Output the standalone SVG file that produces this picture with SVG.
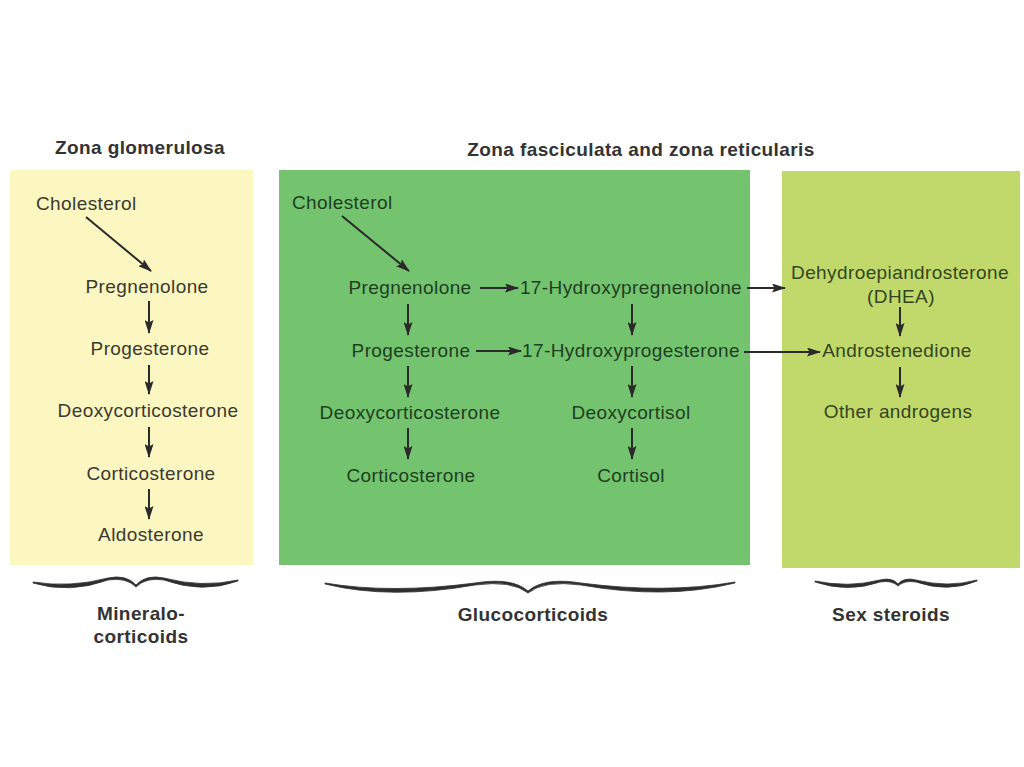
<svg xmlns="http://www.w3.org/2000/svg" width="1024" height="767" viewBox="0 0 1024 767">
<style>
.t{font-family:"Liberation Sans",Arial,sans-serif;font-size:19px;letter-spacing:0.4px;text-anchor:middle}
.b{font-family:"Liberation Sans",Arial,sans-serif;font-size:19px;font-weight:bold;letter-spacing:0.4px;text-anchor:middle;fill:#333}
.y{fill:#3a3a30}
.g{fill:#1f3f1f}
.l{fill:#354520}
.a{stroke:#2a2a2a;stroke-width:2;fill:none;marker-end:url(#ah)}
.br{fill:#2e2e2e;stroke:#2e2e2e;stroke-width:0.8;stroke-linejoin:round}
</style>
<defs>
<marker id="ah" markerUnits="userSpaceOnUse" markerWidth="14" markerHeight="9" refX="13" refY="4.5" orient="auto">
<path d="M0,0 L14,4.5 L0,9 L2.5,4.5 z" fill="#2a2a2a"/>
</marker>
</defs>
<rect width="1024" height="767" fill="#ffffff"/>
<g id="title-glomerulosa"><text class="b" x="140" y="154">Zona glomerulosa</text></g>
<g id="title-fasciculata"><text class="b" x="641" y="156">Zona fasciculata and zona reticularis</text></g>
<g id="zone-glomerulosa">
<rect x="10" y="170" width="243" height="395" fill="#fcf6c0"/>
<text class="t y" x="36" y="210" style="text-anchor:start">Cholesterol</text>
<text class="t y" x="147" y="293">Pregnenolone</text>
<text class="t y" x="150" y="355">Progesterone</text>
<text class="t y" x="148" y="417">Deoxycorticosterone</text>
<text class="t y" x="151" y="480">Corticosterone</text>
<text class="t y" x="151" y="541">Aldosterone</text>
</g>
<g id="zone-fasciculata">
<rect x="279" y="170" width="471" height="395" fill="#73c36f"/>
<text class="t g" x="292" y="209" style="text-anchor:start">Cholesterol</text>
<text class="t g" x="410" y="294">Pregnenolone</text>
<text class="t g" x="631" y="294">17-Hydroxypregnenolone</text>
<text class="t g" x="411" y="357">Progesterone</text>
<text class="t g" x="631" y="357">17-Hydroxyprogesterone</text>
<text class="t g" x="410" y="419">Deoxycorticosterone</text>
<text class="t g" x="631" y="419">Deoxycortisol</text>
<text class="t g" x="411" y="482">Corticosterone</text>
<text class="t g" x="631" y="482">Cortisol</text>
</g>
<g id="zone-sex">
<rect x="782" y="171" width="238" height="397" fill="#c1d96b"/>
<text class="t l" x="900" y="279">Dehydroepiandrosterone</text>
<text class="t l" x="901" y="303">(DHEA)</text>
<text class="t l" x="897" y="357">Androstenedione</text>
<text class="t l" x="898" y="418">Other androgens</text>
</g>
<g id="connectors">
<line class="a" x1="86" y1="217" x2="151" y2="271"/>
<line class="a" x1="149" y1="301" x2="149" y2="333"/>
<line class="a" x1="149" y1="365" x2="149" y2="394"/>
<line class="a" x1="149" y1="427" x2="149" y2="457"/>
<line class="a" x1="149" y1="489" x2="149" y2="519"/>
<line class="a" x1="342" y1="216" x2="409" y2="271"/>
<line class="a" x1="480" y1="288" x2="518" y2="288"/>
<line class="a" x1="476" y1="351" x2="521" y2="351"/>
<line class="a" x1="747" y1="288" x2="785" y2="288"/>
<line class="a" x1="744" y1="352" x2="820" y2="352"/>
<line class="a" x1="408" y1="304" x2="408" y2="335"/>
<line class="a" x1="408" y1="366" x2="408" y2="397"/>
<line class="a" x1="408" y1="428" x2="408" y2="459"/>
<line class="a" x1="632" y1="304" x2="632" y2="335"/>
<line class="a" x1="632" y1="366" x2="632" y2="397"/>
<line class="a" x1="632" y1="428" x2="632" y2="459"/>
<line class="a" x1="900" y1="307" x2="900" y2="336"/>
<line class="a" x1="900" y1="367" x2="900" y2="397"/>
</g>
<g id="brace-mineralo">
<path class="br" d="M33,582 Q70,588 108,578 Q126,574 136,585 Q146,574 164,578 Q202,588 238,580 L238,581 Q202,594 164,580 Q146,577 136,587 Q126,577 108,580 Q70,594 33,583 Z"/>
<text class="b" x="141" y="620">Mineralo-</text>
<text class="b" x="141" y="643">corticoids</text>
</g>
<g id="brace-gluco">
<path class="br" d="M325,583 Q390,594 475,583 Q512,577 528,591 Q544,577 581,583 Q666,594 735,582 L735,583 Q666,600 581,585 Q544,580 528,593 Q512,580 475,585 Q390,600 325,584 Z"/>
<text class="b" x="533" y="621">Glucocorticoids</text>
</g>
<g id="brace-sex">
<path class="br" d="M815,581 Q848,588 880,580 Q892,577 898,584 Q904,577 916,580 Q948,588 977,580 L977,581 Q948,593 916,582 Q904,580 898,586 Q892,580 880,582 Q848,593 815,582 Z"/>
<text class="b" x="891" y="621">Sex steroids</text>
</g>
</svg>
